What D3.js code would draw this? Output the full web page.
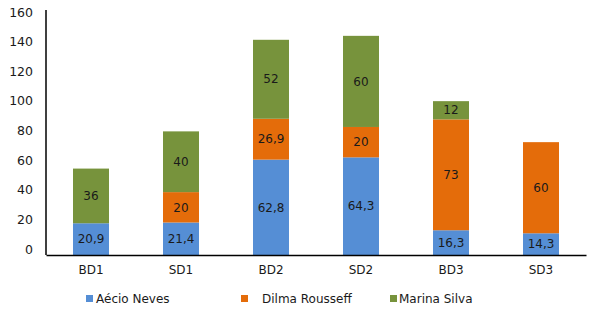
<!DOCTYPE html>
<html lang="en">
<head>
    <meta charset="UTF-8">
    <title>BD / SD</title>
    <script src="https://d3js.org/d3.v7.min.js"></script>
    <style>
        body { margin: 0; background: #fff; }
        svg text { font-family: "DejaVu Sans", Verdana, sans-serif; fill: #1a1a1a; }
        .axis path { stroke: #000; stroke-width: 1.5px; }
        .axis line { display: none; }
    </style>
</head>
<body>
<svg width="596" height="312"></svg>
<script>
    // Data
    const categories = ["BD1", "SD1", "BD2", "SD2", "BD3", "SD3"];
    const seriesNames = ["Aécio Neves", "Dilma Rousseff", "Marina Silva"];
    const aecio = [20.9, 21.4, 62.8, 64.3, 16.3, 14.3];
    const dilma = [0, 20, 26.9, 20, 73, 60];
    const marina = [36, 40, 52, 60, 12, 0];
    const yTicks = [0, 20, 40, 60, 80, 100, 120, 140, 160];

    const colors = ["#558ed5", "#e46c0a", "#77933c"];

    const rows = categories.map((c, i) => ({
        cat: c, "Aécio Neves": aecio[i], "Dilma Rousseff": dilma[i], "Marina Silva": marina[i]
    }));

    const svg = d3.select("svg");

    const x = d3.scaleBand().domain(categories).range([46, 586])
        .paddingInner(0.6).paddingOuter(0.3);
    const y = d3.scaleLinear().domain([0, 160]).range([255, 12]);
    // tick labels sit a little above their gridline values in the original
    const yLabel = d3.scaleLinear().domain([0, 160]).range([249, 12]);

    const stack = d3.stack().keys(seriesNames)(rows);

    const groups = svg.append("g").selectAll("g")
        .data(stack).join("g")
        .attr("fill", (d, i) => colors[i]);

    groups.selectAll("rect")
        .data(d => d.filter(p => p[1] - p[0] > 0))
        .join("rect")
        .attr("x", d => x(d.data.cat))
        .attr("width", x.bandwidth())
        .attr("y", d => y(d[1]))
        .attr("height", d => y(d[0]) - y(d[1]));

    // value labels
    groups.selectAll("text")
        .data(d => d.filter(p => p[1] - p[0] > 0))
        .join("text")
        .attr("x", d => x(d.data.cat) + x.bandwidth() / 2)
        .attr("y", d => (y(d[0]) + y(d[1])) / 2)
        .attr("dy", "0.35em")
        .attr("text-anchor", "middle")
        .attr("font-size", 12)
        .text(d => d3.format(".1~f")(d[1] - d[0]).replace(".", ","));

    // Y axis
    svg.append("g")
        .attr("class", "axis")
        .attr("transform", "translate(46,0)")
        .call(d3.axisLeft(y).tickValues([]).tickSizeOuter(0))
        .select("path").attr("d", "M0,10V255");

    svg.append("g")
        .attr("transform", "translate(46,0)")
        .call(d3.axisLeft(yLabel).tickValues(yTicks).tickSize(0).tickPadding(13))
        .call(g => g.select(".domain").remove())
        .selectAll("text").attr("font-size", 12.5);

    // X axis
    svg.append("g")
        .attr("class", "axis")
        .attr("transform", "translate(0,255)")
        .call(d3.axisBottom(x).tickSize(0).tickPadding(10).tickSizeOuter(0))
        .selectAll("text").attr("font-size", 12);

    // Legend
    const legendX = [86, 241, 390];
    const legendGap = [10, 21, 9];
    const legend = svg.append("g").selectAll("g")
        .data(seriesNames).join("g")
        .attr("transform", (d, i) => "translate(" + legendX[i] + ",299)");
    legend.append("rect")
        .attr("y", -4).attr("width", 7).attr("height", 7)
        .attr("fill", (d, i) => colors[i]);
    legend.append("text")
        .attr("x", (d, i) => legendGap[i])
        .attr("dy", "0.35em")
        .attr("font-size", 12)
        .text(d => d);
</script>
</body>
</html>
